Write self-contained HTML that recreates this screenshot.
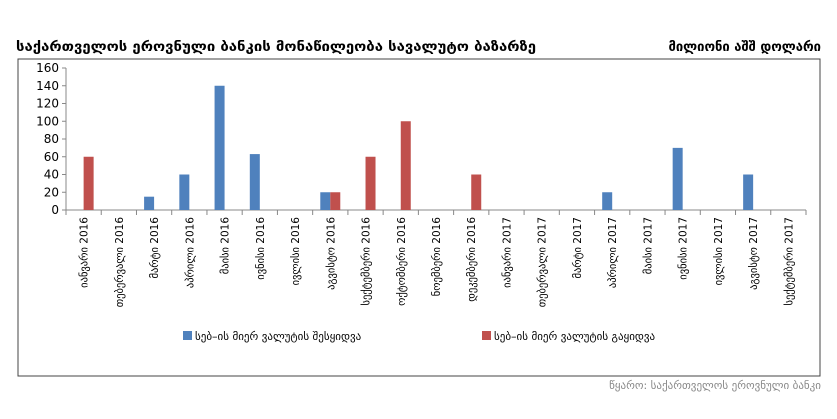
<!DOCTYPE html>
<html><head><meta charset="utf-8"><style>
body{margin:0;background:#fff;width:837px;height:415px;overflow:hidden;font-family:"DejaVu Sans","Liberation Sans",sans-serif;}
svg text{font-family:"DejaVu Sans","Liberation Sans",sans-serif;}
</style></head><body>
<svg id="c" width="837" height="415">
<text x="16" y="51" font-size="13" font-weight="bold" fill="#000" textLength="520" lengthAdjust="spacingAndGlyphs">საქართველოს ეროვნული ბანკის მონაწილეობა სავალუტო ბაზარზე</text>
<text x="821" y="51" font-size="13" font-weight="bold" fill="#000" text-anchor="end">მილიონი აშშ დოლარი</text>
<rect x="18" y="59" width="802" height="317" fill="none" stroke="#444" stroke-width="1"/>
<g id="plot"></g>
<rect x="183" y="331" width="9" height="9" fill="#4f81bd"/>
<text x="195" y="340" font-size="11" fill="#000">სებ–ის მიერ ვალუტის შესყიდვა</text>
<rect x="482" y="331" width="9" height="9" fill="#c0504d"/>
<text x="494" y="340" font-size="11" fill="#000">სებ–ის მიერ ვალუტის გაყიდვა</text>
<text x="821" y="389" font-size="11" fill="#888" text-anchor="end">წყარო: საქართველოს ეროვნული ბანკი</text>
</svg>
<script>
const categories=["იანვარი 2016","თებერვალი 2016","მარტი 2016","აპრილი 2016","მაისი 2016","ივნისი 2016","ივლისი 2016","აგვისტო 2016","სექტემბერი 2016","ოქტომბერი 2016","ნოემბერი 2016","დეკემბერი 2016","იანვარი 2017","თებერვალი 2017","მარტი 2017","აპრილი 2017","მაისი 2017","ივნისი 2017","ივლისი 2017","აგვისტო 2017","სექტემბერი 2017"];
const buyValues=[0,0,15,40,140,63,0,20,0,0,0,0,0,0,0,20,0,70,0,40,0];
const sellValues=[60,0,0,0,0,0,0,20,60,100,0,40,0,0,0,0,0,0,0,0,0];
const yTicks=[0,20,40,60,80,100,120,140,160];
const NS="http://www.w3.org/2000/svg";
const g=document.getElementById('plot');
const x0=66,x1=806,y0=210,yTop=68,yMax=160;
const bw=(x1-x0)/categories.length;
function y(v){return y0-(v/yMax)*(y0-yTop);}
function xc(i){return x0+bw*(i+0.5);}
function mk(t,a){const e=document.createElementNS(NS,t);for(const k in a)e.setAttribute(k,a[k]);g.appendChild(e);return e;}
let ax=mk('line',{x1:x0,y1:yTop,x2:x0,y2:y0,stroke:'#888'});


yTicks.forEach(v=>{
 const t=mk('line',{x1:x0-4,y1:y(v),x2:x0,y2:y(v),stroke:'#888'});
 
 
 const l=mk('text',{x:x0-7,y:y(v)+4,'font-size':12,'text-anchor':'end',fill:'#000','font-family':'Liberation Serif'});
 l.textContent=v;
 
 
});
let xa=mk('line',{x1:x0,y1:y0,x2:x1,y2:y0,stroke:'#888'});


for(let i=0;i<=categories.length;i++){
 const t=mk('line',{x1:x0+bw*i,y1:y0,x2:x0+bw*i,y2:y0+5,stroke:'#888'});
 
 
}
categories.forEach((c,i)=>{
 const l=mk('text',{x:0,y:0,'font-size':10.5,'text-anchor':'end',fill:'#000',transform:`translate(${xc(i)+4},217) rotate(-90)`});
 l.textContent=c;
 
 
 if(buyValues[i]>0){
  const b=mk('rect',{x:xc(i)-10,y:y(buyValues[i]),width:10,height:y0-y(buyValues[i]),fill:'#4f81bd'});
  
  
 }
 if(sellValues[i]>0){
  const b=mk('rect',{x:xc(i),y:y(sellValues[i]),width:10,height:y0-y(sellValues[i]),fill:'#c0504d'});
  
  
 }
});
</script>
</body></html>
